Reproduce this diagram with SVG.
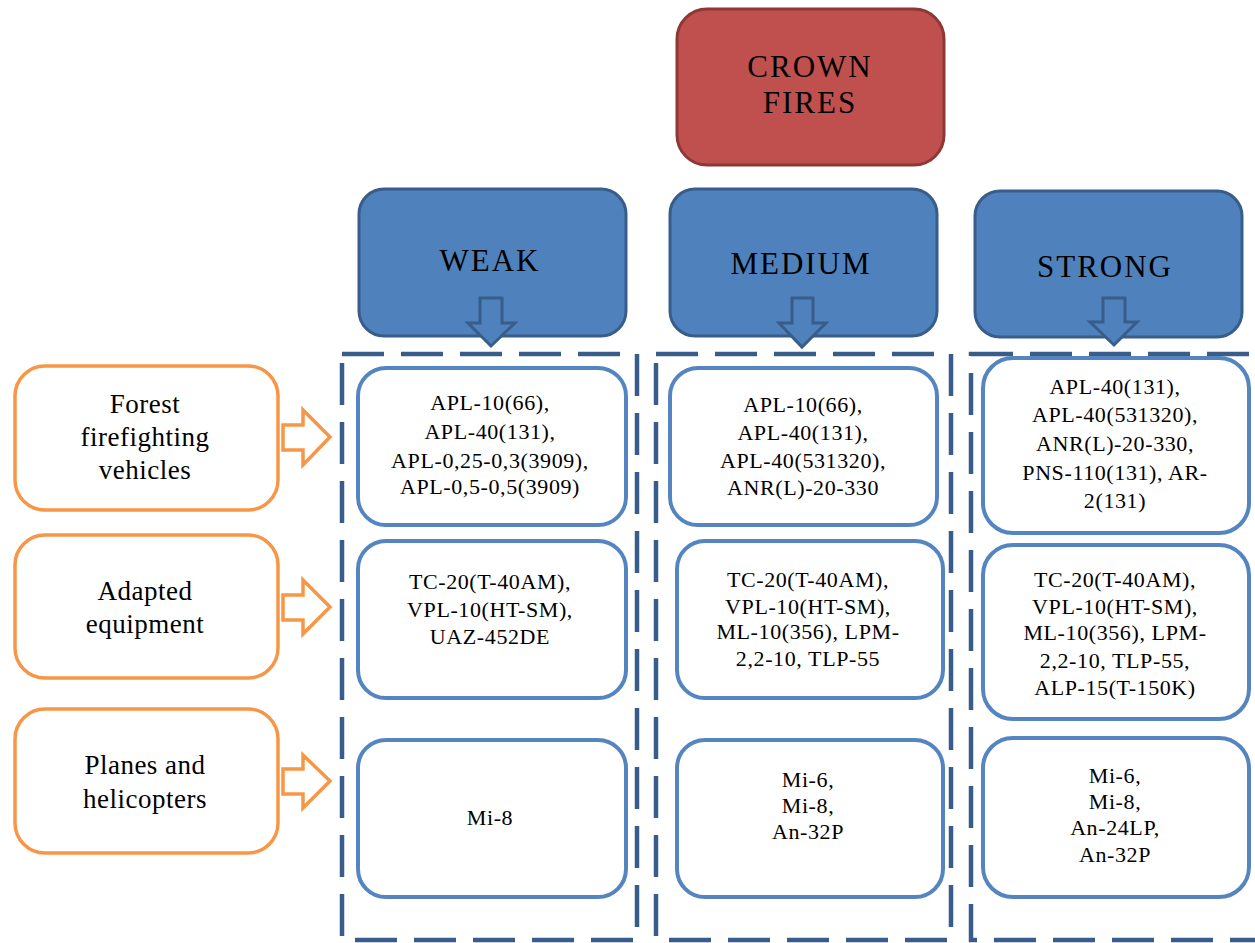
<svg xmlns="http://www.w3.org/2000/svg" width="1255" height="943" viewBox="0 0 1255 943">
<style>
.bg{fill:#ffffff}
.crown{fill:#C0504D;stroke:#8C3836;stroke-width:3}
.head{fill:#4F81BD;stroke:#385D8A;stroke-width:3}
.harrow{fill:#4F81BD;stroke:#385D8A;stroke-width:3;stroke-linejoin:miter}
.col{fill:none;stroke:#385D8A;stroke-width:4.5;stroke-dasharray:42 17}
.item{fill:#ffffff;stroke:#5585C0;stroke-width:4}
.cat{fill:#ffffff;stroke:#F79646;stroke-width:3.5}
.oarrow{fill:#ffffff;stroke:#F79646;stroke-width:3.5}
.t{font-family:"Liberation Serif","Times New Roman",serif;fill:#000;text-anchor:middle}
.big{font-size:31px;letter-spacing:2px}
.cat-t{font-size:27px;letter-spacing:0.5px}
.it{font-size:22px;letter-spacing:0.6px}
</style>
<rect class="bg" x="0" y="0" width="1255" height="943"/>

<g id="crown-fires">
<rect class="crown" x="677" y="9" width="267" height="156" rx="30"/>
<text class="t big" x="810" y="77">CROWN</text>
<text class="t big" x="810" y="113">FIRES</text>
</g>

<g id="columns">
<rect class="col" x="342" y="354" width="295" height="586"/>
<rect class="col" x="656" y="354" width="295" height="586"/>
<rect class="col" x="971" y="354" width="300" height="586"/>
</g>

<g id="weak">
<rect class="head" x="359" y="189" width="267" height="147" rx="25"/>
<text class="t big" x="490" y="271">WEAK</text>
</g>
<g id="medium">
<rect class="head" x="670" y="189" width="267" height="147" rx="25"/>
<text class="t big" x="801" y="274">MEDIUM</text>
</g>
<g id="strong">
<rect class="head" x="975" y="191" width="267" height="146" rx="25"/>
<text class="t big" x="1105" y="277">STRONG</text>
</g>

<g id="forest">
<rect class="cat" x="15" y="366" width="263" height="144" rx="30"/>
<text class="t cat-t" x="145" y="413">Forest</text>
<text class="t cat-t" x="145" y="446">firefighting</text>
<text class="t cat-t" x="145" y="479">vehicles</text>
</g>
<g id="adapted">
<rect class="cat" x="15" y="535" width="263" height="143" rx="30"/>
<text class="t cat-t" x="145" y="600">Adapted</text>
<text class="t cat-t" x="145" y="633">equipment</text>
</g>
<g id="planes">
<rect class="cat" x="15" y="709" width="263" height="144" rx="30"/>
<text class="t cat-t" x="145" y="774">Planes and</text>
<text class="t cat-t" x="145" y="808">helicopters</text>
</g>

<g id="w1">
<rect class="item" x="358" y="368" width="268" height="157" rx="28"/>
<text class="t it" x="490" y="410">APL-10(66),</text>
<text class="t it" x="490" y="439">APL-40(131),</text>
<text class="t it" x="490" y="468">APL-0,25-0,3(3909),</text>
<text class="t it" x="490" y="494">APL-0,5-0,5(3909)</text>
</g>
<g id="w2">
<rect class="item" x="358" y="541" width="268" height="157" rx="28"/>
<text class="t it" x="490" y="589">TC-20(T-40AM),</text>
<text class="t it" x="490" y="617">VPL-10(HT-SM),</text>
<text class="t it" x="490" y="644">UAZ-452DE</text>
</g>
<g id="w3">
<rect class="item" x="358" y="740" width="268" height="157" rx="28"/>
<text class="t it" x="490" y="825">Mi-8</text>
</g>

<g id="m1">
<rect class="item" x="670" y="368" width="267" height="157" rx="28"/>
<text class="t it" x="803" y="412">APL-10(66),</text>
<text class="t it" x="803" y="440">APL-40(131),</text>
<text class="t it" x="803" y="468">APL-40(531320),</text>
<text class="t it" x="803" y="495">ANR(L)-20-330</text>
</g>
<g id="m2">
<rect class="item" x="677" y="541" width="266" height="157" rx="28"/>
<text class="t it" x="808" y="587">TC-20(T-40AM),</text>
<text class="t it" x="808" y="614">VPL-10(HT-SM),</text>
<text class="t it" x="808" y="639">ML-10(356), LPM-</text>
<text class="t it" x="808" y="666">2,2-10, TLP-55</text>
</g>
<g id="m3">
<rect class="item" x="677" y="740" width="266" height="157" rx="28"/>
<text class="t it" x="808" y="787">Mi-6,</text>
<text class="t it" x="808" y="813">Mi-8,</text>
<text class="t it" x="808" y="839">An-32P</text>
</g>

<g id="s1">
<rect class="item" x="983" y="358" width="266" height="175" rx="30"/>
<text class="t it" x="1115" y="394">APL-40(131),</text>
<text class="t it" x="1115" y="422">APL-40(531320),</text>
<text class="t it" x="1115" y="451">ANR(L)-20-330,</text>
<text class="t it" x="1115" y="480">PNS-110(131), AR-</text>
<text class="t it" x="1115" y="508">2(131)</text>
</g>
<g id="s2">
<rect class="item" x="983" y="545" width="266" height="174" rx="30"/>
<text class="t it" x="1115" y="587">TC-20(T-40AM),</text>
<text class="t it" x="1115" y="614">VPL-10(HT-SM),</text>
<text class="t it" x="1115" y="640">ML-10(356), LPM-</text>
<text class="t it" x="1115" y="668">2,2-10, TLP-55,</text>
<text class="t it" x="1115" y="695">ALP-15(T-150K)</text>
</g>
<g id="s3">
<rect class="item" x="983" y="738" width="266" height="159" rx="30"/>
<text class="t it" x="1115" y="783">Mi-6,</text>
<text class="t it" x="1115" y="809">Mi-8,</text>
<text class="t it" x="1115" y="835">An-24LP,</text>
<text class="t it" x="1115" y="862">An-32P</text>
</g>

<g id="connectors">
<path class="harrow" d="M480,298 H502 V323 H515 L491,346 L468,323 H480 Z"/>
<path class="harrow" d="M792,298 H813 V323 H826 L802,347 L779,323 H792 Z"/>
<path class="harrow" d="M1103,298 H1125 V322 H1137 L1114,345 L1090,322 H1103 Z"/>
<path class="oarrow" d="M283,425 H303 V410 L330,437 L303,465 V450 H283 Z"/>
<path class="oarrow" d="M283,595 H303 V580 L330,607 L303,634 V620 H283 Z"/>
<path class="oarrow" d="M283,769 H303 V755 L330,781 L303,808 V794 H283 Z"/>
</g>
</svg>
